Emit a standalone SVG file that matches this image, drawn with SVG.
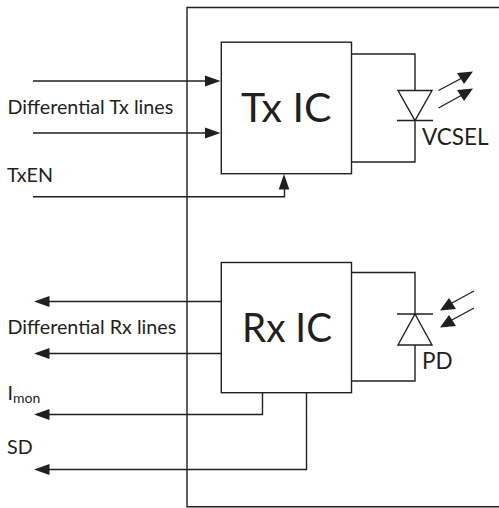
<svg xmlns="http://www.w3.org/2000/svg" width="499" height="508" viewBox="0 0 499 508">
<defs>
<style>
text{font-family:"Lato","Open Sans","Liberation Sans",sans-serif;fill:#231f20}
.s{font-size:19.7px}
.b{font-size:41px}
.l{fill:none;stroke:#231f20;stroke-width:1.4}
.h{fill:#231f20;stroke:none}
</style>
</defs>
<rect width="499" height="508" fill="#fff"/>
<g id="module"><path class="l" d="M499 7.5H187V506.700H499"/></g>
<g id="tx-ic"><rect class="l" x="221.300" y="42.200" width="130.200" height="131.500"/><text class="b" x="241" y="122">Tx IC</text></g>
<g id="rx-ic"><rect class="l" x="221.300" y="262.500" width="130.200" height="130.200"/><text class="b" x="242" y="342" textLength="90" lengthAdjust="spacingAndGlyphs">Rx IC</text></g>
<g id="vcsel"><path class="l" d="M351.500 54H415V90.500M398 90.500H432L415 120.500ZM397 120.500H433M415 120.500V162H351.500"/>
<path class="l" d="M438.500 90.500L462 78M438.500 108L462 95"/>
<path class="h" d="M473 71.500L457 73L464 84ZM473 88.500L457 90L464 101Z"/>
<text x="422" y="145" font-size="22.500">VCSEL</text></g>
<g id="pd"><path class="l" d="M351.500 272.500H415V314M397 314H433M415 314L432 345H398ZM415 345V381H351.500"/>
<path class="l" d="M474 291L451 303.500M474 308L451 320.500"/>
<path class="h" d="M440 310.500L456 309L449 298ZM440 327.500L456 326L449 315Z"/>
<text x="422" y="369" font-size="22.500">PD</text></g>
<g id="connectors">
<path class="l" d="M33 81H207M33 133H207M33 196.700H284.500V185M221 301.500H48M221 353.500H48M262.500 393V414.500H48M306.500 393V469.500H48"/>
<path class="h" d="M220.500 81L205 75.500V86.500ZM220.500 133L205 127.500V138.500ZM284 174L278.700 189.500H289.300ZM34 301.500L49.500 296V307ZM34 353.500L49.500 348V359ZM34 414.500L49.500 409V420ZM34 469.500L49.500 464V475Z"/>
</g>
<g id="labels">
<text class="s" x="7.500" y="114.300">Differential Tx lines</text>
<text class="s" x="7" y="182">TxEN</text>
<text class="s" x="7.500" y="334">Differential Rx lines</text>
<text class="s" x="7.500" y="400">I<tspan font-size="14" dy="3">mon</tspan></text>
<text class="s" x="7" y="454">SD</text>
</g>
</svg>
